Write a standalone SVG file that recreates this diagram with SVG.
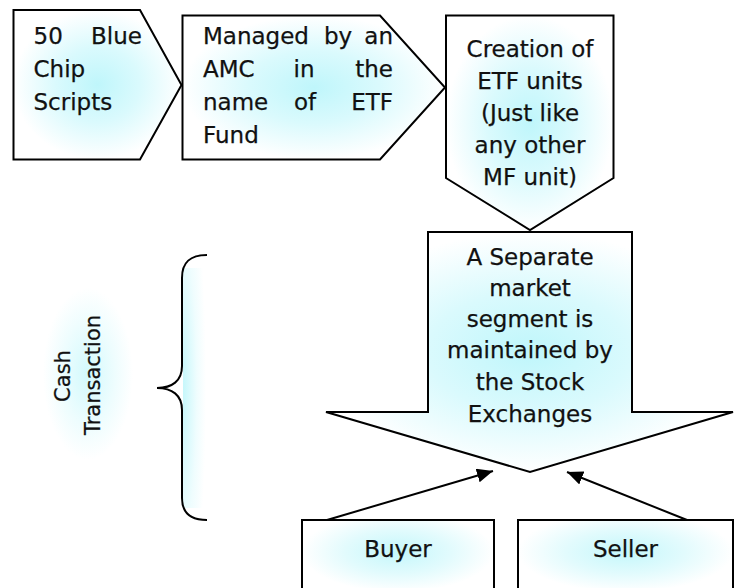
<svg xmlns="http://www.w3.org/2000/svg" width="735" height="588" viewBox="0 0 735 588">
  <defs>
    <radialGradient id="glow" cx="50%" cy="50%" r="50%">
      <stop offset="0" stop-color="#bff6fb"/>
      <stop offset="0.5" stop-color="#dafafd"/>
      <stop offset="1" stop-color="#ffffff"/>
    </radialGradient>
    <radialGradient id="bandGlow" cx="50%" cy="40%" r="50%">
      <stop offset="0" stop-color="#c4f7fb"/>
      <stop offset="0.55" stop-color="#e2fbfd"/>
      <stop offset="1" stop-color="#ffffff"/>
    </radialGradient>
    <radialGradient id="braceGlow" cx="0" cy="50%" r="100%">
      <stop offset="0" stop-color="#c6f7fb"/>
      <stop offset="0.6" stop-color="#effdfe"/>
      <stop offset="1" stop-color="#ffffff"/>
    </radialGradient>
    <radialGradient id="labelGlow" cx="50%" cy="50%" r="50%">
      <stop offset="0" stop-color="#d2f9fc"/>
      <stop offset="0.6" stop-color="#eefdfe"/>
      <stop offset="1" stop-color="#ffffff"/>
    </radialGradient>
    <marker id="head" markerUnits="userSpaceOnUse" markerWidth="17" markerHeight="14" refX="16" refY="7" orient="auto">
      <path d="M0,0 L16,7 L0,14 Z" fill="#000"/>
    </marker>
  </defs>
  <style>
    .shape { fill: url(#glow); stroke: #000; stroke-width: 2; stroke-linejoin: miter; }
    .box { fill: url(#bandGlow); stroke: #000; stroke-width: 2; }
    text { font-family: "DejaVu Sans", Verdana, sans-serif; font-size: 23px; fill: #111; stroke: #111; stroke-width: 0.25; }
    .mid { text-anchor: middle; }
    .end { text-anchor: end; }
    .conn { fill: none; stroke: #000; stroke-width: 2; }
  </style>

  <rect width="735" height="588" fill="#ffffff"/>

  <!-- Cash transaction label with bracket -->
  <g id="cash-label">
    <rect x="43" y="288" width="90" height="172" fill="url(#labelGlow)"/>
    <text class="mid" style="font-size:21px" transform="translate(70,376) rotate(-90)">Cash</text>
    <text class="mid" style="font-size:21px" transform="translate(100,375) rotate(-90)">Transaction</text>
  </g>
  <g id="bracket">
    <rect x="183" y="268" width="23" height="240" fill="url(#braceGlow)"/>
    <path class="conn" d="M207,255 C190,255 182,262 182,278 V366 C182,381 172,388 157,388 C172,388 182,395 182,410 V498 C182,513 190,520 207,520"/>
  </g>

  <g id="blue-chip">
    <path class="shape" d="M13.5,10 H140 L181.5,85 L140,159.5 H13.5 Z"/>
    <text x="33.5" y="43.5">50</text>
    <text class="end" x="142" y="43.5">Blue</text>
    <text x="33.5" y="76.5">Chip</text>
    <text x="33.5" y="110">Scripts</text>
  </g>

  <g id="managed-amc">
    <path class="shape" d="M182.5,15.5 H380 L445,87.5 L380,159.5 H182.5 Z"/>
    <text x="203" y="43.5">Managed</text>
    <text class="mid" x="338" y="43.5">by</text>
    <text class="end" x="393" y="43.5">an</text>
    <text x="203" y="77">AMC</text>
    <text class="mid" x="304" y="77">in</text>
    <text class="end" x="393" y="77">the</text>
    <text x="203" y="110">name</text>
    <text class="mid" x="305" y="110">of</text>
    <text class="end" x="393" y="110">ETF</text>
    <text x="203" y="142.5">Fund</text>
  </g>

  <g id="etf-creation">
    <path class="shape" d="M446,15.5 H613.5 V178 L530,230 L446,178 Z"/>
    <text class="mid" x="530" y="57">Creation of</text>
    <text class="mid" x="530" y="89">ETF units</text>
    <text class="mid" x="530" y="121">(Just like</text>
    <text class="mid" x="530" y="153">any other</text>
    <text class="mid" x="530" y="185">MF unit)</text>
  </g>

  <g id="market-segment">
    <path class="shape" d="M428,232 H632 V412 H733 L530,472 L326,412 H428 Z"/>
    <text class="mid" x="530" y="265">A Separate</text>
    <text class="mid" x="530" y="296">market</text>
    <text class="mid" x="530" y="327">segment is</text>
    <text class="mid" x="530" y="358">maintained by</text>
    <text class="mid" x="530" y="390">the Stock</text>
    <text class="mid" x="530" y="422">Exchanges</text>
  </g>

  <g id="buyer">
    <rect class="box" x="302" y="520" width="192" height="80"/>
    <text class="mid" x="398" y="556.5">Buyer</text>
  </g>

  <g id="seller">
    <rect class="box" x="518" y="520" width="215" height="80"/>
    <text class="mid" x="625.5" y="556.5">Seller</text>
  </g>

  <g id="connectors">
    <line class="conn" x1="327" y1="520" x2="493" y2="471" marker-end="url(#head)"/>
    <line class="conn" x1="687" y1="520" x2="567" y2="472" marker-end="url(#head)"/>
  </g>
</svg>
